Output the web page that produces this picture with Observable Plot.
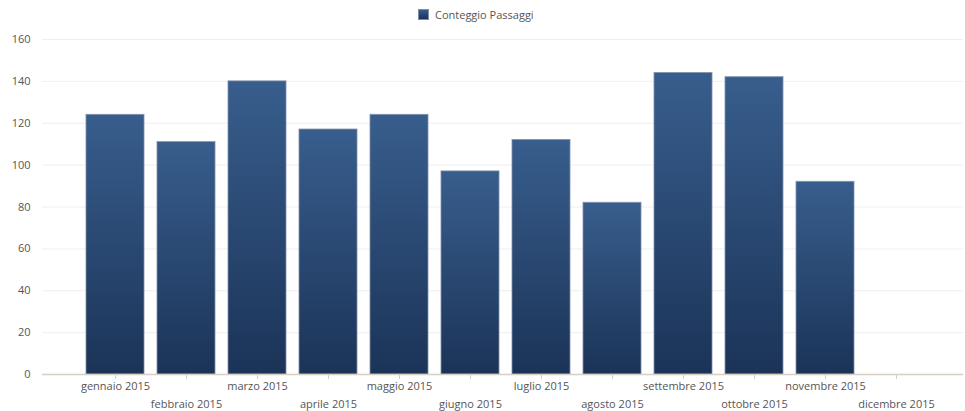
<!DOCTYPE html>
<html>
<head>
<meta charset="utf-8">
<script src="https://cdn.jsdelivr.net/npm/d3@7"></script>
<script src="https://cdn.jsdelivr.net/npm/@observablehq/plot@0.6"></script>
<style>
  html, body { margin: 0; padding: 0; background: #fff; }
  body { width: 965px; height: 411px; overflow: hidden; font-family: "Open Sans", "Noto Sans", sans-serif; }
  #legend { height: 30px; position: relative; }
  #legend .sw { position: absolute; left: 418px; top: 9px; width: 11px; height: 11px;
    background: linear-gradient(#36598a, #1c3358); border: 1px solid #7d8ea8; box-sizing: border-box; }
  #legend .lb { position: absolute; left: 435px; top: 7px; font-size: 11px; color: #555; line-height: 15px; }
  #chart svg { display: block; }
</style>
</head>
<body>
<div id="legend"><div class="sw"></div><div class="lb">Conteggio Passaggi</div></div>
<div id="chart"></div>
<script>
const seriesName = "Conteggio Passaggi";
const months = ["gennaio 2015","febbraio 2015","marzo 2015","aprile 2015","maggio 2015","giugno 2015",
  "luglio 2015","agosto 2015","settembre 2015","ottobre 2015","novembre 2015","dicembre 2015"];
const counts = [124, 111, 140, 117, 124, 97, 112, 82, 144, 142, 92, null];
const yTicks = [0, 20, 40, 60, 80, 100, 120, 140, 160];

const data = months.map((m, i) => ({month: m, value: counts[i], i}));
const bars = data.filter(d => d.value != null);

const chart = Plot.plot({
  width: 965,
  height: 381,
  marginLeft: 42,
  marginRight: 2,
  marginTop: 9,
  marginBottom: 37,
  style: {fontFamily: "'Open Sans', 'Noto Sans', sans-serif", fontSize: "11px", color: "#555", background: "#fff"},
  x: {domain: months, range: [78.6, 932.5], paddingInner: 0.19, paddingOuter: 0.095, label: null},
  y: {domain: [0, 160], label: null},
  marks: [
    Plot.ruleY(yTicks.filter(t => t > 0), {stroke: "#efefef", strokeWidth: 1}),
    Plot.barY(bars, {x: "month", y: "value", fill: "url(#barGrad)", stroke: "#7f90aa", strokeWidth: 1, strokeOpacity: 0.8}),
    Plot.axisY({ticks: yTicks, tickSize: 0, tickPadding: 12, fill: "#555", label: null}),
    Plot.axisX({tickSize: 5, stroke: "#cfcfcf", tickFormat: () => "", label: null}),
    Plot.text(data.filter(d => d.i % 2 === 0), {x: "month", y: 0, text: "month", dy: 12, fill: "#555", lineAnchor: "middle"}),
    Plot.text(data.filter(d => d.i % 2 === 1), {x: "month", y: 0, text: "month", dy: 30, fill: "#555", lineAnchor: "middle"}),
    Plot.ruleY([0], {stroke: "#d6d0c2", strokeWidth: 1.5}),
    Plot.ruleX([0], {x: () => null, frameAnchor: "left", stroke: "#d6d0c2", strokeWidth: 1.5})
  ]
});

// gradient definition for bars
const ns = "http://www.w3.org/2000/svg";
const defs = document.createElementNS(ns, "defs");
const grad = document.createElementNS(ns, "linearGradient");
grad.setAttribute("id", "barGrad");
grad.setAttribute("x1", "0"); grad.setAttribute("y1", "0");
grad.setAttribute("x2", "0"); grad.setAttribute("y2", "1");
[["0%", "#385e8d"], ["100%", "#1b3357"]].forEach(([o, c]) => {
  const s = document.createElementNS(ns, "stop");
  s.setAttribute("offset", o); s.setAttribute("stop-color", c);
  grad.appendChild(s);
});
defs.appendChild(grad);
chart.insertBefore(defs, chart.firstChild);

document.getElementById("chart").appendChild(chart);
</script>
</body>
</html>
